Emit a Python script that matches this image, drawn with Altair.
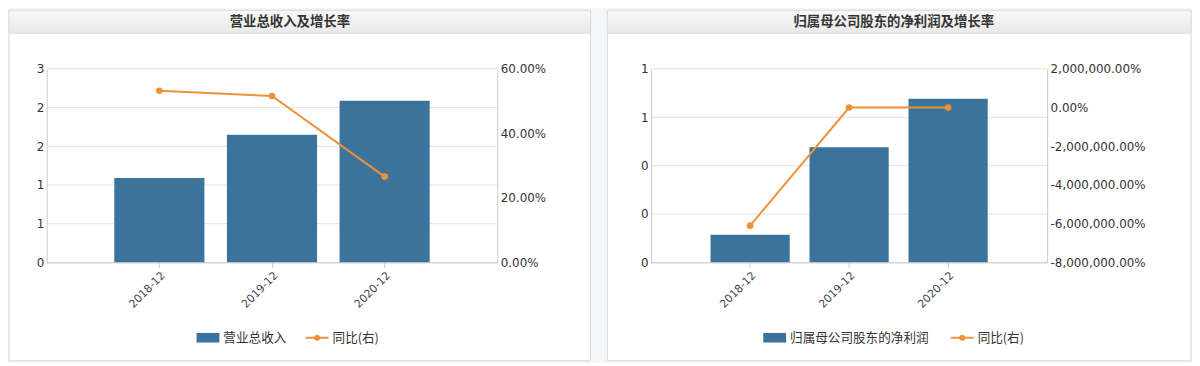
import altair as alt
import pandas as pd

# ---- data ----
periods = ['2018-12', '2019-12', '2020-12']
revenue = [1.09, 1.65, 2.09]
revenue_yoy = [0.532, 0.516, 0.266]
profit = [0.114, 0.476, 0.677]
profit_yoy = [-61000.0, 3.19, 0.42]

titles = ['营业总收入及增长率', '归属母公司股东的净利润及增长率']
bar_names = ['营业总收入', '归属母公司股东的净利润']
line_name = '同比(右)'

rev_ticks = [0, 0.5, 1, 1.5, 2, 2.5]
rev_yoy_ticks = [0, 0.2, 0.4, 0.6]
prof_ticks = [0, 0.2, 0.4, 0.6, 0.8]
prof_yoy_ticks = [-80000, -60000, -40000, -20000, 0, 20000]

BAR = '#3b739b'
LINE = '#f0913a'
TXT = '#333333'
AXC = '#cccccc'
GRID = '#e3e3e3'
BORDER = '#d9dce1'
NUM_FONT = 'DejaVu Sans'
CJK_FONT = 'Noto Sans CJK SC'

RECT_PATH = 'M-1,-0.42H1V0.42H-1Z'
LINE_PATH = ('M-1,-0.09H-0.22V0.09H-1Z M0.22,-0.09H1V0.09H0.22Z '
             'M0.27,0A0.27,0.27,0,1,1,-0.27,0A0.27,0.27,0,1,1,0.27,0Z')

H = 195


def panel(title, bar_name, values, yoy, w, y_ticks, y_fmt, r_ticks, r_fmt,
          frame_l, frame_r, title_x, legend_x, col_pad):
    df = pd.DataFrame({'period': periods, 'value': values, 'yoy': yoy})
    one = pd.DataFrame({'k': [0]})

    leg = alt.Legend(title=None, orient='none', legendX=legend_x, legendY=259,
                     direction='horizontal', symbolSize=529, symbolStrokeWidth=0,
                     symbolOpacity=1,
                     labelFont=CJK_FONT, labelFontSize=12.7, labelColor=TXT,
                     labelOffset=4, columnPadding=col_pad, padding=0)
    legend_layer = alt.Chart(pd.DataFrame({'series': [bar_name, line_name]})).mark_point(
        filled=True, size=529, opacity=1).encode(
        color=alt.Color('series:N', scale=alt.Scale(domain=[bar_name, line_name], range=[BAR, LINE]),
                        legend=leg),
        shape=alt.Shape('series:N', scale=alt.Scale(domain=[bar_name, line_name],
                                                    range=[RECT_PATH, LINE_PATH]),
                        legend=leg),
    )

    frame = alt.Chart(one).mark_rect(fill='white', stroke=BORDER, strokeWidth=1).encode(
        x=alt.value(frame_l), x2=alt.value(frame_r), y=alt.value(-59), y2=alt.value(294))
    header = alt.Chart(one).mark_rect(
        fill=alt.LinearGradient(gradient='linear',
                                stops=[alt.GradientStop(color='#f9f9f9', offset=0),
                                       alt.GradientStop(color='#e9e9e9', offset=1)],
                                x1=0, x2=0, y1=0, y2=1),
        stroke=BORDER, strokeWidth=1).encode(
        x=alt.value(frame_l), x2=alt.value(frame_r), y=alt.value(-59), y2=alt.value(-36))
    head_text = alt.Chart(one).mark_text(font=CJK_FONT, fontSize=13.5, fontWeight='bold',
                                         color=TXT, align='center', baseline='middle').encode(
        x=alt.value(title_x), y=alt.value(-47.5), text=alt.value(title))

    x = alt.X('period:N', sort=periods,
              scale=alt.Scale(type='band', paddingInner=0.2, paddingOuter=0.6),
              axis=alt.Axis(title=None, labelAngle=-45, labelFont=NUM_FONT, labelFontSize=11,
                            labelColor='#3a3f4a', domainColor=AXC, tickColor=AXC, tickSize=5,
                            labelPadding=2, grid=False, zindex=1))

    left_axis = alt.Axis(title=None, values=y_ticks, format=y_fmt, labelFont=NUM_FONT,
                         labelFontSize=12, labelColor=TXT, domainColor=AXC, ticks=False,
                         grid=False, labelPadding=3, zindex=1)
    y_scale = alt.Scale(domain=[y_ticks[0], y_ticks[-1]], nice=False)

    grid = alt.Chart(pd.DataFrame({'value': y_ticks})).mark_rule(
        color=GRID, strokeWidth=1).encode(
        y=alt.Y('value:Q', scale=y_scale, axis=left_axis))

    bars = alt.Chart(df).mark_bar(color=BAR).encode(
        x=x,
        y=alt.Y('value:Q', scale=y_scale, axis=left_axis),
    )
    line = alt.Chart(df).mark_line(color=LINE, strokeWidth=2,
                                   point=alt.OverlayMarkDef(filled=True, size=45, color=LINE,
                                                            opacity=1)).encode(
        x=alt.X('period:N', sort=periods),
        y=alt.Y('yoy:Q', scale=alt.Scale(domain=[r_ticks[0], r_ticks[-1]], nice=False),
                axis=alt.Axis(title=None, orient='right', values=r_ticks, format=r_fmt,
                              labelExpr="replace(datum.label, '\u2212', '-')",
                              labelFont=NUM_FONT, labelFontSize=12, labelColor=TXT,
                              domainColor=AXC, ticks=False, grid=False, labelPadding=3,
                              zindex=1)),
    )

    return alt.layer(legend_layer, frame, header, head_text, alt.layer(grid, bars), line
                     ).resolve_scale(y='independent').properties(width=w, height=H)


p1 = panel(titles[0], bar_names[0], revenue, revenue_yoy, 454, rev_ticks, '.0f',
           rev_yoy_ticks, '.2%', -38, 548, 245, 151, 19)
p2 = panel(titles[1], bar_names[1], profit, profit_yoy, 399, prof_ticks, '.0f',
           prof_yoy_ticks, ',.2%', -44, 544, 244.5, 113, 22)

chart = alt.hconcat(p1, p2, spacing=15).resolve_scale(
    x='independent', y='independent', color='independent', shape='independent'
).resolve_legend(color='independent', shape='independent').configure_view(
    stroke=None).properties(padding=0, background='#f5f6f8')

chart.save("out.html", embed_options={"renderer": "svg", "actions": False})
